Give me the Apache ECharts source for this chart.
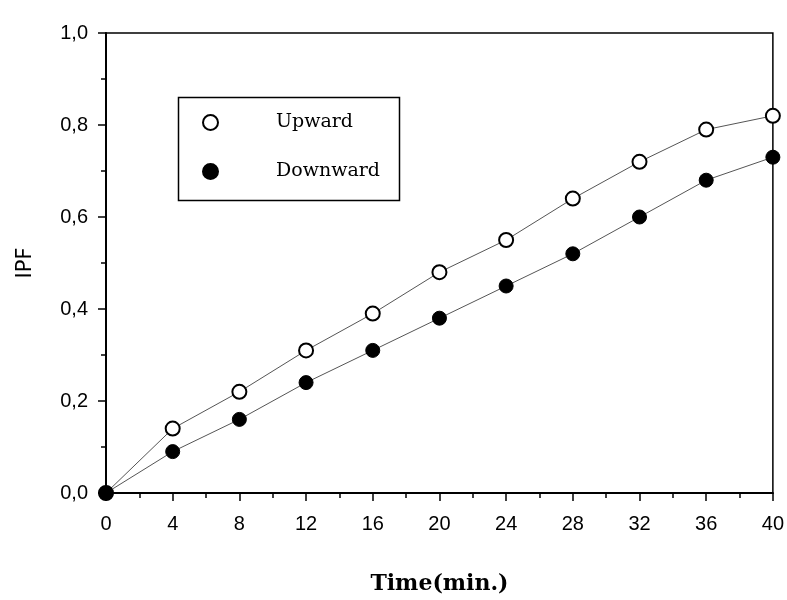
<!DOCTYPE html>
<html>
<head>
<meta charset="utf-8">
<script src="https://cdn.jsdelivr.net/npm/echarts@6/dist/echarts.min.js"></script>
<style>html,body{margin:0;padding:0;background:#fff}#c{width:787px;height:600px}</style>
</head>
<body>
<div id="c"></div>
<script>
const times = [0, 4, 8, 12, 16, 20, 24, 28, 32, 36, 40];
const upward = [0, 0.14, 0.22, 0.31, 0.39, 0.48, 0.55, 0.64, 0.72, 0.79, 0.82];
const downward = [0, 0.09, 0.16, 0.24, 0.31, 0.38, 0.45, 0.52, 0.60, 0.68, 0.73];
const seriesNames = ['Upward', 'Downward'];
const xTitle = 'Time(min.)';
const yTitle = 'IPF';

const pairs = (xs, ys) => xs.map((x, i) => [x, ys[i]]);
const chart = echarts.init(document.getElementById('c'), null, {renderer: 'canvas'});
const axisFont = {fontFamily: 'Liberation Sans, Arial, sans-serif', fontSize: 20, color: '#000'};
chart.setOption({
  animation: false,
  backgroundColor: '#fff',
  grid: {left: 106, right: 12, top: 33, bottom: 107, show: true, borderColor: '#000', borderWidth: 1.5},
  xAxis: {
    type: 'value', min: 0, max: 40, interval: 4,
    name: xTitle, nameLocation: 'middle', nameGap: 80,
    nameTextStyle: {fontFamily: 'DejaVu Serif', fontWeight: 'bold', fontSize: 22, color: '#000'},
    axisLine: {show: true, onZero: false, lineStyle: {color: '#000', width: 2}},
    axisTick: {show: true, inside: false, length: 8, lineStyle: {color: '#000', width: 1.5}},
    minorTick: {show: true, splitNumber: 2, length: 5, lineStyle: {color: '#000', width: 1.5}},
    splitLine: {show: false},
    axisLabel: Object.assign({margin: 21}, axisFont)
  },
  yAxis: {
    type: 'value', min: 0, max: 1, interval: 0.2,
    name: yTitle, nameLocation: 'middle', nameGap: 70,
    nameTextStyle: {fontFamily: 'DejaVu Sans', fontSize: 21, color: '#000', padding: [0, 0, 0, 0]},
    axisLine: {show: true, onZero: false, lineStyle: {color: '#000', width: 2}},
    axisTick: {show: true, inside: false, length: 8, lineStyle: {color: '#000', width: 1.5}},
    minorTick: {show: true, splitNumber: 2, length: 5, lineStyle: {color: '#000', width: 1.5}},
    splitLine: {show: false},
    axisLabel: Object.assign({margin: 18, formatter: v => v.toFixed(1).replace('.', ',')}, axisFont)
  },
  legend: {
    orient: 'vertical', left: 197, top: 108,
    itemWidth: 15, itemHeight: 15, itemGap: 30,
    icon: 'circle',
    data: seriesNames,
    textStyle: {fontFamily: 'DejaVu Serif', fontSize: 19, color: '#000', padding: [0, 0, 0, 53]}
  },
  graphic: [{
    type: 'rect', left: 176, top: 95, z: 0,
    shape: {width: 221, height: 103},
    style: {fill: 'none', stroke: '#000', lineWidth: 1.5}
  }],
  series: [
    {
      name: seriesNames[0], type: 'line', data: pairs(times, upward),
      symbol: 'circle', symbolSize: 14,
      lineStyle: {color: '#555', width: 1},
      itemStyle: {color: '#fff', borderColor: '#000', borderWidth: 2},
      z: 2
    },
    {
      name: seriesNames[1], type: 'line', data: pairs(times, downward),
      symbol: 'circle', symbolSize: 14,
      lineStyle: {color: '#555', width: 1},
      itemStyle: {color: '#000', borderColor: '#000', borderWidth: 1},
      z: 3
    }
  ]
});
</script>
</body>
</html>
